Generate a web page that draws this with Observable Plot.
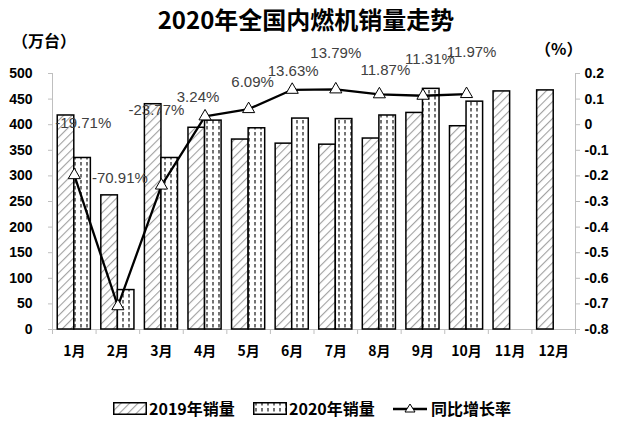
<!DOCTYPE html>
<html><head><meta charset="utf-8">
<script src="https://cdn.jsdelivr.net/npm/d3@7"></script>
<script src="https://cdn.jsdelivr.net/npm/@observablehq/plot@0.6"></script>
<style>
body{margin:0;background:#fff;width:620px;height:427px;overflow:hidden;position:relative;font-family:"Noto Sans CJK SC",sans-serif;}
.abs{position:absolute;white-space:nowrap;font-weight:bold;color:#000;}
#title{left:0;width:612px;top:4px;text-align:center;font-size:24px;line-height:30px;}
#unitL{left:12px;top:30px;font-size:16px;line-height:20px;}
#unitR{left:535px;top:38px;font-size:16px;line-height:20px;}
.leg{top:398px;font-size:16px;line-height:20px;display:flex;align-items:center;}
.leg svg{margin-right:2px;}
#chart{position:absolute;left:0;top:0;}
</style></head>
<body>
<div id="chart"></div>
<div id="title" class="abs">2020年全国内燃机销量走势</div>
<div id="unitL" class="abs">（万台）</div>
<div id="unitR" class="abs">（%）</div>
<div class="abs leg" style="left:113px"><svg width="34" height="13"><rect x="0.75" y="0.75" width="32.5" height="11.5" fill="url(#h2019)" stroke="#000" stroke-width="1.5"/></svg>2019年销量</div>
<div class="abs leg" style="left:253px"><svg width="34" height="13"><rect x="0.75" y="0.75" width="32.5" height="11.5" fill="url(#h2020)" stroke="#000" stroke-width="1.5"/></svg>2020年销量</div>
<div class="abs leg" style="left:393px"><svg width="36" height="13"><line x1="0" y1="7" x2="34" y2="7" stroke="#000" stroke-width="2.5"/><path d="M17,2 L22,10 L12,10 Z" fill="#fff" stroke="#000" stroke-width="1"/></svg>同比增长率</div>
<script>
const months = ["1月","2月","3月","4月","5月","6月","7月","8月","9月","10月","11月","12月"];
const sales2019 = [418, 262, 440, 394, 371, 363, 361, 373, 423, 397, 465, 467];
const sales2020 = [335, 77, 335, 408, 393, 412, 411, 418, 470, 445];
const growthPct = [-19.71, -70.91, -23.77, 3.24, 6.09, 13.63, 13.79, 11.87, 11.31, 11.97];
const growthLabels = ["-19.71%","-70.91%","-23.77%","3.24%","6.09%","13.63%","13.79%","11.87%","11.31%","11.97%"];
const leftTicks = [0, 50, 100, 150, 200, 250, 300, 350, 400, 450, 500];
const rightTicks = [-0.8, -0.7, -0.6, -0.5, -0.4, -0.3, -0.2, -0.1, 0, 0.1, 0.2];
const rightTickLabels = ["-0.8","-0.7","-0.6","-0.5","-0.4","-0.3","-0.2","-0.1","0","0.1","0.2"];
// label nudges (layout only, pixels)
const labelDx = [9, 2, -5, -7, 4, 1, 0, 6, 7, 5];
const labelDy = [-52, -128, -75, -19, -27, -19, -36, -24, -37, -42];

// right axis (ratio -0.8..0.2) mapped onto the left axis (0..500)
const toY = r => (r + 0.8) * 500;

const d19 = sales2019.map((v, i) => ({m: i + 1, v}));
const d20 = sales2020.map((v, i) => ({m: i + 1, v}));
const dg = growthPct.map((p, i) => ({m: i + 1, y: toY(p / 100), label: growthLabels[i]}));
const half = 0.38;

const textMarks = dg.map((d, i) => Plot.text([d], {
  x: "m", y: "y", text: "label", dx: labelDx[i], dy: labelDy[i],
  fontSize: 15, fill: "#404040", fontFamily: "Liberation Sans, sans-serif"
}));

const chart = Plot.plot({
  width: 620, height: 427,
  marginLeft: 52, marginRight: 45, marginTop: 73, marginBottom: 98,
  style: {fontFamily: "Liberation Sans, sans-serif", background: "transparent"},
  x: {type: "linear", domain: [0.5, 12.5], axis: null},
  y: {domain: [0, 500], axis: null},
  marks: [
    Plot.ruleX([0.5, 12.5], {stroke: "#bfbfbf", strokeWidth: 1}),
    Plot.ruleY([0], {stroke: "#bfbfbf", strokeWidth: 1}),
    Plot.axisX({ticks: d3.range(0.5, 13, 1), tickFormat: () => "", tickSize: 5, stroke: "#bfbfbf", label: null}),
    Plot.axisX({ticks: d3.range(1, 13), tickFormat: d => months[d - 1], tickSize: 0, tickPadding: 17, label: null,
      fontSize: 14, fontWeight: "bold", fontFamily: "Noto Sans CJK SC, sans-serif", fill: "#000"}),
    Plot.axisY({anchor: "left", ticks: leftTicks, tickSize: 4, tickPadding: 16, stroke: "#bfbfbf",
      fontSize: 14, fontWeight: "bold", fill: "#000", label: null}),
    Plot.axisY({anchor: "right", ticks: rightTicks.map(toY), tickSize: 4, tickPadding: 5, stroke: "#bfbfbf",
      tickFormat: (d, i) => rightTickLabels[i], fontSize: 14, fontWeight: "bold", fill: "#000", label: null}),
    Plot.rectY(d19, {x1: d => d.m - half, x2: d => d.m, y1: 0, y2: "v", fill: "url(#h2019)", stroke: "#000", strokeWidth: 1.5}),
    Plot.rectY(d20, {x1: d => d.m, x2: d => d.m + half, y1: 0, y2: "v", fill: "url(#h2020)", stroke: "#000", strokeWidth: 1.5}),
    Plot.line(dg, {x: "m", y: "y", stroke: "#000", strokeWidth: 2.3}),
    Plot.dot(dg, {x: "m", y: "y", symbol: "triangle", r: 4.5, fill: "white", stroke: "#000", strokeWidth: 1}),
    ...textMarks
  ]
});

const defs = d3.create("svg:defs");
const p1 = defs.append("pattern").attr("id", "h2019").attr("patternUnits", "userSpaceOnUse")
  .attr("width", 6).attr("height", 6).attr("patternTransform", "rotate(45)");
p1.append("rect").attr("width", 6).attr("height", 6).attr("fill", "#fff");
p1.append("line").attr("x1", 0).attr("y1", 0).attr("x2", 0).attr("y2", 6).attr("stroke", "#a0a0a0").attr("stroke-width", 2.2);
const p2 = defs.append("pattern").attr("id", "h2020").attr("patternUnits", "userSpaceOnUse")
  .attr("width", 6).attr("height", 6);
p2.append("rect").attr("width", 6).attr("height", 6).attr("fill", "#fff");
p2.append("line").attr("x1", 3).attr("y1", 0).attr("x2", 3).attr("y2", 3.5).attr("stroke", "#000").attr("stroke-width", 1.1);
chart.insertBefore(defs.node(), chart.firstChild);
document.getElementById("chart").appendChild(chart);
</script>
</body></html>
